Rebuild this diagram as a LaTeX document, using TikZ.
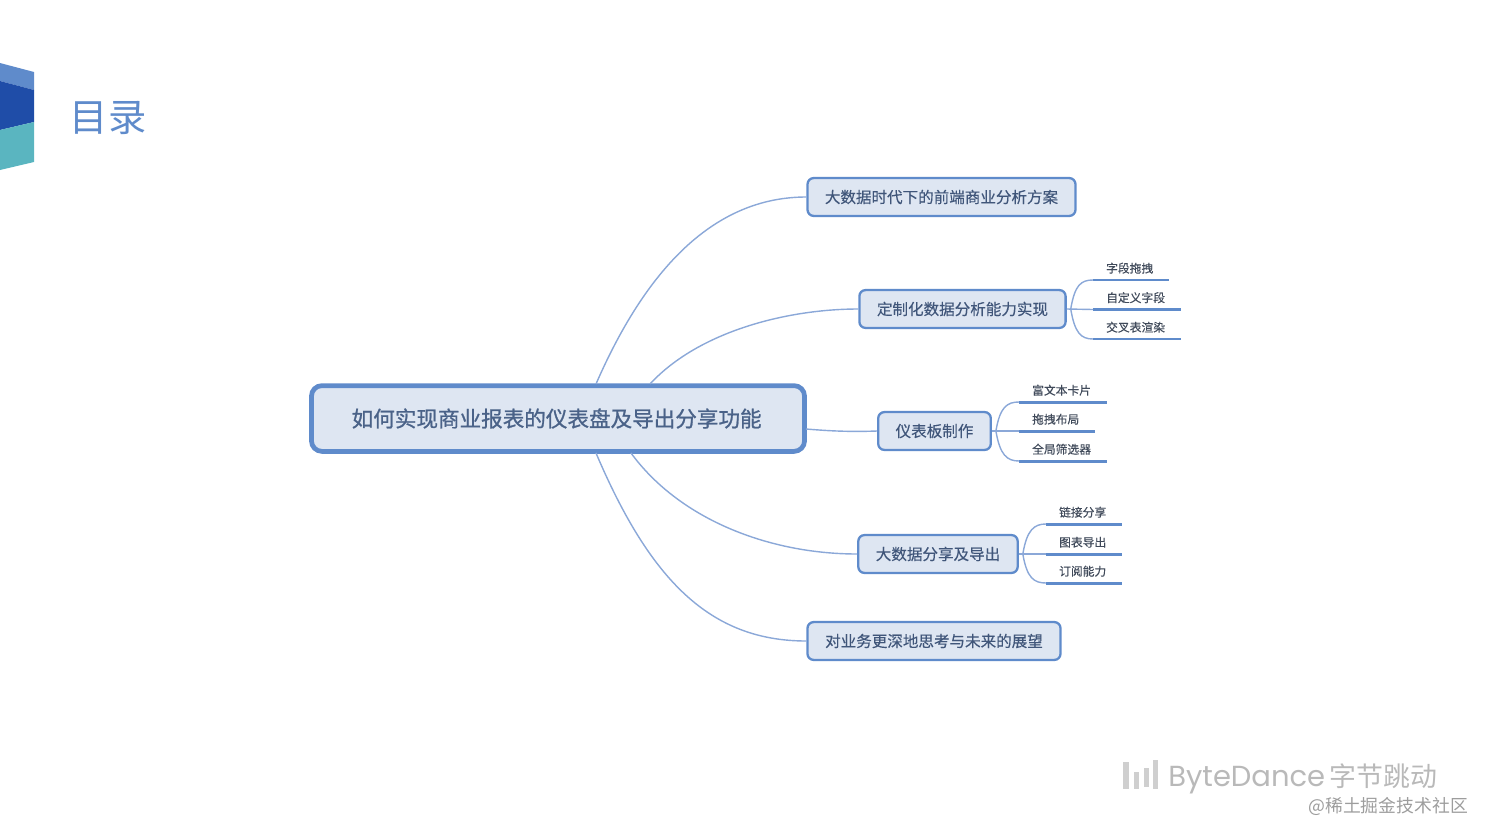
\documentclass[tikz,border=0pt]{standalone}
\usepackage{fontspec}
\usepackage{xcolor}
\usetikzlibrary{calc}
\setmainfont{Noto Sans CJK SC}
\newfontfamily\latinfont{Poppins}
\newfontfamily\rootfont[FakeBold=1]{Noto Sans CJK SC}
\newfontfamily\topicfont[FakeBold=0.3]{Noto Sans CJK SC}
\newfontfamily\leaffont[FakeBold=0.4]{Noto Sans CJK SC}
\definecolor{mapblue}{HTML}{5F8BCB}
\definecolor{linkblue}{HTML}{8BA8D8}
\definecolor{mapfill}{HTML}{DEE6F2}
\definecolor{maptext}{HTML}{40567A}
\definecolor{roottext}{HTML}{4A6288}
\definecolor{leaftext}{HTML}{404A5A}
\definecolor{marktext}{HTML}{B9B9B9}
\definecolor{markbar}{HTML}{CFCFCF}
\definecolor{ribbonblue}{HTML}{1F4DA8}
\definecolor{ribbonteal}{HTML}{5AB5C0}

\begin{document}
\begin{tikzpicture}[
  x=0.02cm, y=-0.02cm,
  rootbox/.style={rounded corners=6pt, draw=mapblue, fill=mapfill, line width=2.7pt,
                  minimum width=495*0.567pt, minimum height=66*0.567pt, inner sep=0pt,
                  text=roottext, font=\rootfont\fontsize{12.28}{14}\selectfont},
  topic/.style={rounded corners=3.5pt, draw=mapblue, fill=mapfill, line width=1.3pt,
                minimum height=38*0.567pt, inner sep=0pt, text=maptext,
                font=\topicfont\fontsize{8.85}{11}\selectfont},
  leaf/.style={anchor=south west, inner ysep=0pt, inner xsep=7.3pt, minimum height=23*0.567pt,
               text=leaftext, font=\leaffont\fontsize{6.7}{8}\selectfont},
  link/.style={draw=linkblue, line width=0.8pt},
  under/.style={draw=mapblue, line width=1.7pt},
  wmark/.style={text=marktext, anchor=west, inner sep=0pt},
]
\useasboundingbox (0,0) rectangle (1492,839);
% ----- corner ribbon and heading -----
\fill[mapblue] (0,63) -- (34,72) -- (34,90) -- (0,81) -- cycle;
\fill[ribbonblue] (0,81) -- (34,90) -- (34,122) -- (0,130) -- cycle;
\fill[ribbonteal] (0,130) -- (34,122) -- (34,162) -- (0,170) -- cycle;
\node[anchor=west, inner sep=0pt, text=mapblue, font=\fontsize{21.8}{24}\selectfont] (heading) at (69.5,117.5) {目录};
% ----- topics -----
\node[rootbox] (root) at (558,418.5) {\hspace*{-1.5pt}如何实现商业报表的仪表盘及导出分享功能};
\node[topic, minimum width=269*0.567pt] (frontend) at (941.5,197) {大数据时代下的前端商业分析方案};
\node[topic, minimum width=207*0.567pt] (custom) at (962.5,309) {定制化数据分析能力实现};
\node[topic, minimum width=113*0.567pt] (board) at (934.5,431) {仪表板制作};
\node[topic, minimum width=160*0.567pt] (export) at (938,554) {大数据分享及导出};
\node[topic, minimum width=254*0.567pt] (future) at (934,641) {对业务更深地思考与未来的展望};
% ----- leaves -----
\node[leaf] (drag) at (1093,280) {字段拖拽};
\node[leaf] (field) at (1093,309.5) {自定义字段};
\node[leaf] (cross) at (1093,339) {交叉表渲染};
\node[leaf] (rich) at (1019,402) {富文本卡片};
\node[leaf] (layout) at (1019,431) {拖拽布局};
\node[leaf] (filter) at (1019,461) {全局筛选器};
\node[leaf] (linkshare) at (1046,524) {链接分享};
\node[leaf] (chart) at (1046,554) {图表导出};
\node[leaf] (sub) at (1046,583) {订阅能力};
\foreach \n in {drag,field,cross,rich,layout,filter,linkshare,chart,sub}
  \draw[under] (\n.south west) -- ($(\n.south east)+(2.5,0)$);
% ----- links from the root -----
\coordinate (rootA) at (596,384);
\coordinate (rootB) at (650,384);
\coordinate (rootC) at (806,429);
\coordinate (rootD) at (631,453);
\coordinate (rootE) at (596,453);
\draw[link] (rootA) .. controls (650,260) and (720,197) .. (frontend.west);
\draw[link] (rootB) .. controls (700,330) and (790,309) .. (custom.west);
\draw[link] (rootC) .. controls (830,431) and (850,432) .. (board.west);
\draw[link] (rootD) .. controls (680,520) and (770,554) .. (export.west);
\draw[link] (rootE) .. controls (650,580) and (710,641) .. (future.west);
% ----- forks -----
\foreach \a/\b/\c/\d in {custom/drag/field/cross,board/rich/layout/filter,export/linkshare/chart/sub}{
  \coordinate (fork) at ($(\a.east)+(4,0)$);
  \draw[link] (\a.east) -- (\c.south west);
  \draw[link] (fork) .. controls ($(fork)+(4,-24)$) and ($(\b.south west)+(-12,0)$) .. (\b.south west);
  \draw[link] (fork) .. controls ($(fork)+(4,24)$) and ($(\d.south west)+(-12,0)$) .. (\d.south west);
}
% ----- watermark -----
\fill[markbar] (1123,762) rectangle (1129,789);
\fill[markbar] (1134,772) rectangle (1139,789);
\fill[markbar] (1144,768) rectangle (1149,787);
\fill[markbar] (1153,760) rectangle (1158,789);
\node[wmark, font=\latinfont\fontsize{16.5}{18}\selectfont] (brand) at (1168,780) {ByteDance};
\node[wmark, font=\fontsize{15.3}{18}\selectfont] (brandcn) at (1329,776) {字节跳动};
\node[wmark, text=marktext!85!black, font=\fontsize{10.15}{12}\selectfont] (site) at (1308,806) {@稀土掘金技术社区};
\end{tikzpicture}
\end{document}
